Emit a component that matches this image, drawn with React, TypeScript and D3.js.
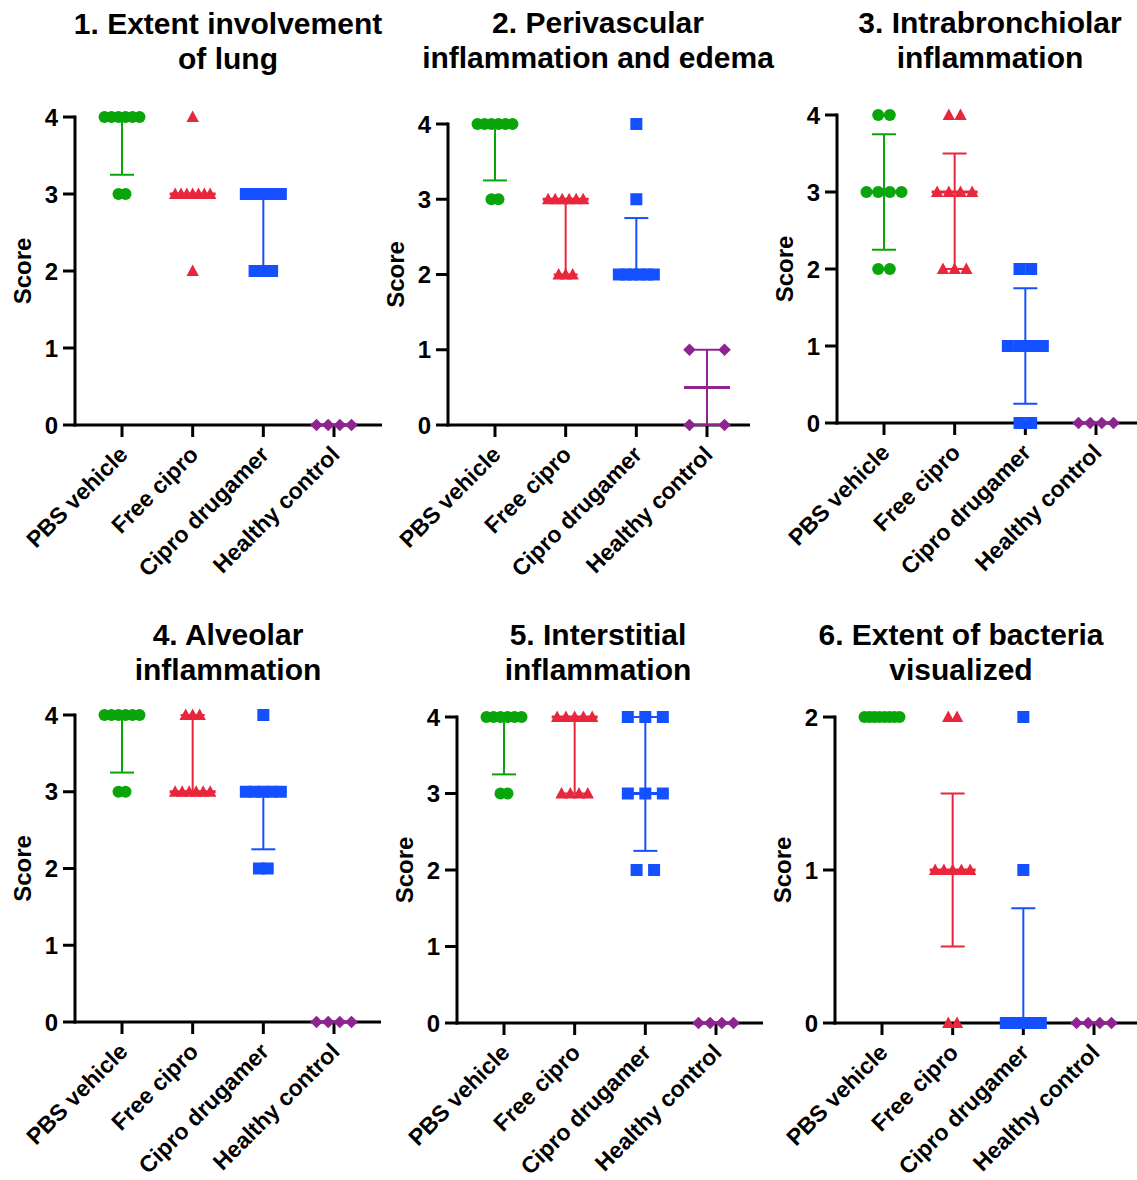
import React from "react";
import * as d3 from "d3";

// Treatment groups, in plotting order
const groups = ["PBS vehicle", "Free cipro", "Cipro drugamer", "Healthy control"];
const groupColors = ["#0AA50A", "#E8263C", "#1450FF", "#8E248F"];
const groupShapes = ["circle", "triangle", "square", "diamond"];

// Histopathology scoring categories
const titles = [
  ["1. Extent involvement", "of lung"],
  ["2. Perivascular", "inflammation and edema"],
  ["3. Intrabronchiolar", "inflammation"],
  ["4. Alveolar", "inflammation"],
  ["5. Interstitial", "inflammation"],
  ["6. Extent of bacteria", "visualized"],
];
const yMaxima = [4, 4, 4, 4, 4, 2];
const yAxisLabel = "Score";

// Individual animal scores per category (one row per category)
const pbsVehicle = [
  [4, 4, 4, 4, 4, 4, 3, 3],
  [4, 4, 4, 4, 4, 4, 3, 3],
  [4, 4, 3, 3, 3, 3, 2, 2],
  [4, 4, 4, 4, 4, 4, 3, 3],
  [4, 4, 4, 4, 4, 4, 3, 3],
  [2, 2, 2, 2, 2, 2, 2, 2],
];
const freeCipro = [
  [4, 3, 3, 3, 3, 3, 3, 3, 2],
  [3, 3, 3, 3, 3, 3, 2, 2, 2],
  [4, 4, 3, 3, 3, 3, 2, 2, 2],
  [4, 4, 4, 3, 3, 3, 3, 3, 3],
  [4, 4, 4, 4, 4, 3, 3, 3, 3],
  [2, 2, 1, 1, 1, 1, 1, 0, 0],
];
const ciproDrugamer = [
  [3, 3, 3, 3, 3, 2, 2, 2],
  [4, 3, 2, 2, 2, 2, 2, 2],
  [2, 2, 1, 1, 1, 1, 0, 0],
  [4, 3, 3, 3, 3, 3, 2, 2],
  [4, 4, 4, 3, 3, 3, 2, 2],
  [2, 1, 0, 0, 0, 0, 0, 0],
];
const healthyControl = [
  [0, 0, 0, 0],
  [1, 1, 0, 0],
  [0, 0, 0, 0],
  [0, 0, 0, 0],
  [0, 0, 0, 0],
  [0, 0, 0, 0],
];

const seriesByGroup = [pbsVehicle, freeCipro, ciproDrugamer, healthyControl];

// Panel frames on the page
const frames = [
  { axisX: 75, top: 117, bottom: 425, right: 382, titleX: 228, titleY: 34 },
  { axisX: 448, top: 124, bottom: 425, right: 750, titleX: 598, titleY: 33 },
  { axisX: 837, top: 115, bottom: 423, right: 1137, titleX: 990, titleY: 33 },
  { axisX: 75, top: 715, bottom: 1022, right: 381, titleX: 228, titleY: 645 },
  { axisX: 457, top: 717, bottom: 1023, right: 763, titleX: 598, titleY: 645 },
  { axisX: 835, top: 717, bottom: 1023, right: 1137, titleX: 961, titleY: 645 },
];

const FONT = "'Liberation Sans', Arial, Helvetica, sans-serif";
const SPREAD = 35; // widest horizontal scatter of a column
const MEDIAN_HALF = 23;
const CAP_HALF = 12;

// Quartile with (n + 1)p positioning
function quantile(sorted: number[], p: number) {
  const n = sorted.length;
  const pos = (n + 1) * p;
  if (pos <= 1) return sorted[0];
  if (pos >= n) return sorted[n - 1];
  const lo = Math.floor(pos);
  const frac = pos - lo;
  return sorted[lo - 1] + frac * (sorted[lo] - sorted[lo - 1]);
}

function markerPath(shape: string) {
  switch (shape) {
    case "circle":
      return d3.symbol(d3.symbolCircle, Math.PI * 36)()!;
    case "square":
      return "M-6,-6L6,-6L6,6L-6,6Z";
    case "triangle":
      return "M0,-6.5L6.2,5L-6.2,5Z";
    default:
      return "M0,-6.3L6.3,0L0,6.3L-6.3,0Z";
  }
}

// Horizontal offsets for equal values, spread like a column scatter
function spreadPoints(values: number[]) {
  const counts = d3.rollup(values, (v) => v.length, (d) => d);
  const maxK = d3.max(Array.from(counts.values())) ?? 1;
  const step = maxK > 1 ? SPREAD / (maxK - 1) : 0;
  const seen = new Map<number, number>();
  return values.map((v) => {
    const k = counts.get(v)!;
    const i = seen.get(v) ?? 0;
    seen.set(v, i + 1);
    return { value: v, dx: (i - (k - 1) / 2) * step };
  });
}

function Panel({ index }: { index: number }) {
  const f = frames[index];
  const yMax = yMaxima[index];
  const y = d3.scaleLinear().domain([0, yMax]).range([f.bottom, f.top]);
  const x = d3
    .scalePoint<string>()
    .domain(groups)
    .range([f.axisX + 47, f.axisX + 259]);
  const ticks = y.ticks(yMax);
  const midY = (f.top + f.bottom) / 2;

  return (
    <g>
      {/* title */}
      <text
        x={f.titleX}
        y={f.titleY}
        textAnchor="middle"
        fontFamily={FONT}
        fontWeight="bold"
        fontSize={30}
      >
        <tspan x={f.titleX}>{titles[index][0]}</tspan>
        <tspan x={f.titleX} dy={35}>
          {titles[index][1]}
        </tspan>
      </text>

      {/* y axis */}
      <text
        transform={`translate(${f.axisX - 44},${midY}) rotate(-90)`}
        textAnchor="middle"
        fontFamily={FONT}
        fontWeight="bold"
        fontSize={24}
      >
        {yAxisLabel}
      </text>
      {ticks.map((t) => (
        <g key={t}>
          <line
            x1={f.axisX - 12}
            x2={f.axisX}
            y1={y(t)}
            y2={y(t)}
            stroke="#000"
            strokeWidth={3}
          />
          <text
            x={f.axisX - 17}
            y={y(t)}
            dy="0.36em"
            textAnchor="end"
            fontFamily={FONT}
            fontWeight="bold"
            fontSize={24}
          >
            {t}
          </text>
        </g>
      ))}
      <line
        x1={f.axisX}
        x2={f.axisX}
        y1={f.top - 1.5}
        y2={f.bottom + 1.5}
        stroke="#000"
        strokeWidth={3}
      />

      {/* x axis */}
      <line
        x1={f.axisX - 1.5}
        x2={f.right}
        y1={f.bottom}
        y2={f.bottom}
        stroke="#000"
        strokeWidth={3}
      />
      {groups.map((g) => (
        <g key={g}>
          <line
            x1={x(g)}
            x2={x(g)}
            y1={f.bottom}
            y2={f.bottom + 12}
            stroke="#000"
            strokeWidth={3}
          />
          <text
            transform={`translate(${x(g)! + 7},${f.bottom + 31}) rotate(-45)`}
            textAnchor="end"
            fontFamily={FONT}
            fontWeight="bold"
            fontSize={23}
          >
            {g}
          </text>
        </g>
      ))}

      {/* data: points, median and interquartile range */}
      {groups.map((g, gi) => {
        const vals = seriesByGroup[gi][index];
        const sorted = [...vals].sort(d3.ascending);
        const med = d3.median(sorted)!;
        const q1 = quantile(sorted, 0.25);
        const q3 = quantile(sorted, 0.75);
        const cx = x(g)!;
        const color = groupColors[gi];
        const path = markerPath(groupShapes[gi]);
        return (
          <g key={g}>
            {spreadPoints(vals).map((p, i) => (
              <path
                key={i}
                d={path}
                transform={`translate(${cx + p.dx},${y(p.value)})`}
                fill={color}
              />
            ))}
            <line x1={cx} x2={cx} y1={y(q1)} y2={y(q3)} stroke={color} strokeWidth={2} />
            <line
              x1={cx - CAP_HALF}
              x2={cx + CAP_HALF}
              y1={y(q1)}
              y2={y(q1)}
              stroke={color}
              strokeWidth={2}
            />
            <line
              x1={cx - CAP_HALF}
              x2={cx + CAP_HALF}
              y1={y(q3)}
              y2={y(q3)}
              stroke={color}
              strokeWidth={2}
            />
            <line
              x1={cx - MEDIAN_HALF}
              x2={cx + MEDIAN_HALF}
              y1={y(med)}
              y2={y(med)}
              stroke={color}
              strokeWidth={3}
            />
          </g>
        );
      })}
    </g>
  );
}

export default function App() {
  return (
    <svg
      width={1137}
      height={1180}
      style={{ position: "absolute", left: 0, top: 0, background: "#fff" }}
    >
      <rect width={1137} height={1180} fill="#fff" />
      {titles.map((_, i) => (
        <Panel key={i} index={i} />
      ))}
    </svg>
  );
}
